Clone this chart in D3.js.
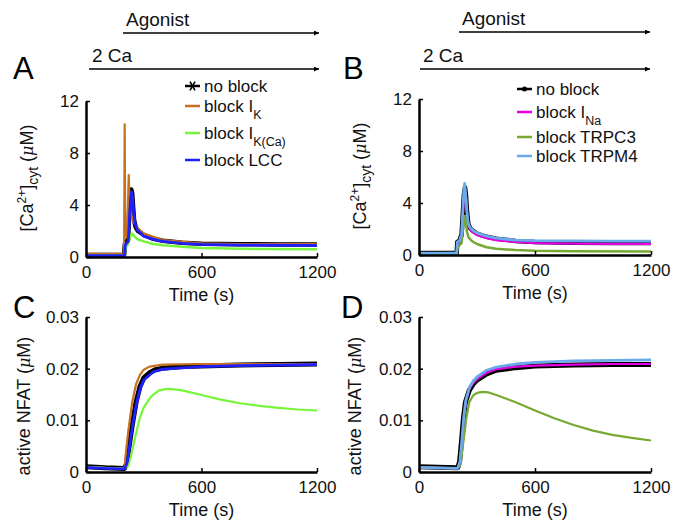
<!DOCTYPE html>
<html><head><meta charset="utf-8">
<script src="https://cdn.jsdelivr.net/npm/d3@7"></script>
<style>body{margin:0;background:#fff}svg{display:block;font-family:"Liberation Sans",Arial,sans-serif}</style>
</head><body><svg id="c" width="673" height="525"></svg>
<script>
// ---------- DATA ----------
const xTicks = [0, 600, 1200];
const caTicks = [0, 4, 8, 12];
const nfatTicks = [0, 0.01, 0.02, 0.03];
const nfatTickLabels = ["0", "0.01", "0.02", "0.03"];

// Panel A: [Ca2+]cyt (uM)
const caA_noBlock_t = [0,198,202,210,218,222,228,235,240,245,250,258,270,300,350,400,500,600,800,1000,1200];
const caA_noBlock_v = [0.15,0.15,1.0,1.2,1.3,2.5,4.5,5.2,4.9,3.8,2.8,2.3,2.0,1.7,1.4,1.25,1.1,1.02,0.98,0.97,0.97];
const caA_IK_t = [0,196,198,201,204,212,218,222,226,232,240,250,270,300,400,600,800,1200];
const caA_IK_v = [0.25,0.25,1.0,10.2,1.5,1.5,4.0,6.3,4.5,3.5,3.0,2.6,2.2,1.8,1.3,1.05,1.0,1.0];
const caA_IKCa_t = [0,200,205,215,225,232,240,250,270,300,350,400,500,600,800,1200];
const caA_IKCa_v = [0.1,0.1,0.7,0.9,1.3,1.7,1.8,1.6,1.35,1.2,1.0,0.9,0.78,0.7,0.63,0.6];
const caA_LCC_t = [0,200,204,212,220,226,232,237,242,248,255,265,280,300,350,400,500,600,800,1200];
const caA_LCC_v = [0.1,0.1,0.9,1.1,1.2,3.0,4.6,5.0,4.6,3.4,2.6,2.1,1.9,1.6,1.35,1.2,1.05,0.97,0.92,0.9];

// Panel B: [Ca2+]cyt (uM)
const caB_noBlock_t = [0,195,198,210,215,220,226,232,238,243,248,255,265,280,300,350,400,500,600,800,1000,1200];
const caB_noBlock_v = [0.15,0.15,1.0,1.1,1.4,1.5,3.0,4.6,5.2,4.6,3.4,2.4,2.05,1.85,1.65,1.4,1.25,1.08,1.0,0.95,0.93,0.92];
const caB_INa_t = [0,195,198,210,215,220,226,232,238,243,248,255,265,280,300,350,400,500,600,800,1000,1200];
const caB_INa_v = [0.12,0.12,0.9,1.0,1.3,1.4,2.8,4.4,5.0,4.4,3.2,2.3,1.95,1.75,1.55,1.3,1.15,1.0,0.92,0.87,0.85,0.85];
const caB_TRPC3_t = [0,195,200,212,220,226,232,238,243,248,255,265,280,300,350,400,500,600,800,1200];
const caB_TRPC3_v = [0.1,0.1,0.6,0.8,0.9,1.8,2.6,3.0,2.4,1.8,1.4,1.2,1.0,0.85,0.6,0.48,0.38,0.32,0.28,0.27];
const caB_TRPM4_t = [0,195,198,210,215,220,226,232,236,242,248,255,265,280,300,350,400,500,600,800,1000,1200];
const caB_TRPM4_v = [0.15,0.15,1.0,1.1,1.4,1.5,3.2,5.0,5.5,4.6,3.3,2.4,2.1,1.9,1.7,1.45,1.3,1.15,1.1,1.08,1.07,1.07];

// Panel C: active NFAT (uM)
const nfC_noBlock_t = [0,100,200,210,220,240,260,280,300,330,360,400,500,600,800,1000,1200];
const nfC_noBlock_v = [0.0010,0.0008,0.0007,0.0015,0.0040,0.0090,0.0135,0.0165,0.0182,0.0192,0.0198,0.0201,0.0204,0.0205,0.0207,0.0208,0.0209];
const nfC_IK_t = [0,100,200,205,220,240,260,280,300,330,400,600,800,1200];
const nfC_IK_v = [0.0010,0.0008,0.0007,0.0030,0.0080,0.0135,0.0170,0.0188,0.0198,0.0204,0.0208,0.0209,0.0209,0.0209];
const nfC_IKCa_t = [0,100,200,220,240,260,280,300,340,380,420,460,500,600,700,800,900,1000,1100,1200];
const nfC_IKCa_v = [0.0010,0.0008,0.0007,0.0012,0.0040,0.0075,0.0105,0.0125,0.0147,0.0158,0.0161,0.0160,0.0158,0.0149,0.0140,0.0133,0.0128,0.0124,0.0121,0.0119];
const nfC_LCC_t = [0,100,200,215,240,260,280,300,350,400,600,800,1200];
const nfC_LCC_v = [0.0009,0.0007,0.0006,0.0020,0.0085,0.0128,0.0160,0.0178,0.0194,0.0199,0.0204,0.0206,0.0208];

// Panel D: active NFAT (uM)
const nfD_noBlock_t = [0,100,200,210,220,230,240,260,280,300,350,400,500,600,800,1000,1200];
const nfD_noBlock_v = [0.0010,0.0009,0.0008,0.0020,0.0060,0.0105,0.0135,0.0158,0.0170,0.0178,0.0190,0.0197,0.0202,0.0205,0.0207,0.0208,0.0208];
const nfD_INa_t = [0,100,200,212,222,232,242,260,280,300,350,400,500,600,800,1000,1200];
const nfD_INa_v = [0.0009,0.0008,0.0007,0.0020,0.0060,0.0105,0.0135,0.0160,0.0172,0.0180,0.0192,0.0199,0.0204,0.0206,0.0208,0.0209,0.0209];
const nfD_TRPC3_t = [0,100,200,215,230,245,260,280,300,330,360,400,500,600,700,800,900,1000,1100,1200];
const nfD_TRPC3_v = [0.0009,0.0008,0.0007,0.0015,0.0060,0.0105,0.0135,0.0148,0.0153,0.0155,0.0154,0.0149,0.0135,0.0119,0.0104,0.0091,0.0080,0.0072,0.0066,0.0061];
const nfD_TRPM4_t = [0,100,200,212,222,232,242,260,280,300,350,400,500,600,800,1000,1200];
const nfD_TRPM4_v = [0.0009,0.0008,0.0007,0.0020,0.0062,0.0108,0.0138,0.0163,0.0176,0.0184,0.0197,0.0203,0.0209,0.0212,0.0215,0.0216,0.0217];

// ---------- DRAW ----------
const svg = d3.select("#c");
const C = {black:"#000", orange:"#c8701e", lime:"#77f53a", blue:"#1f1fff",
           magenta:"#e600e6", olive:"#77a832", sky:"#6aaaea"};

function zip(t, v){ return t.map((d,i)=>[d, v[i]]); }

function panel(o){
  const x = d3.scaleLinear().domain([0,1200]).range([o.x0, o.x1]);
  const y = d3.scaleLinear().domain(o.ydom).range([o.y0, o.y1]);
  const g = svg.append("g");
  const line = d3.line().x(d=>x(d[0])).y(d=>y(d[1]));
  o.series.forEach(s=>{
    g.append("path").datum(zip(s.t, s.v)).attr("d", line)
      .attr("fill","none").attr("stroke", s.c).attr("stroke-width", s.w)
      .attr("stroke-linejoin","round");
  });
  const xa = g.append("g").attr("transform",`translate(0,${o.y0})`)
    .call(d3.axisBottom(x).tickValues(xTicks).tickSizeInner(-4).tickSizeOuter(0).tickPadding(9).tickFormat(d3.format("d")));
  const ya = g.append("g").attr("transform",`translate(${o.x0},0)`)
    .call(d3.axisLeft(y).tickValues(o.yticks).tickSizeInner(-4).tickSizeOuter(0).tickPadding(7)
      .tickFormat((d,i)=>o.ylabels[i]));
  [xa, ya].forEach(a=>{
    a.select(".domain").attr("stroke","#000").attr("stroke-width",2.5);
    a.selectAll(".tick line").attr("stroke","#000").attr("stroke-width",1.5);
    a.selectAll("text").attr("font-size",17).attr("fill","#111")
      .attr("font-family",'"Liberation Sans",Arial,sans-serif');
  });
  g.append("text").attr("x",(o.x0+o.x1)/2).attr("y",o.y0+44).attr("text-anchor","middle")
    .attr("font-size",18).attr("fill","#111").text("Time (s)");
  return {x,y,g};
}

function ylabelCa(cx, cy){
  const t = svg.append("text").attr("transform",`translate(${cx},${cy}) rotate(-90)`)
    .attr("text-anchor","middle").attr("font-size",18).attr("fill","#111");
  t.append("tspan").text("[Ca");
  t.append("tspan").attr("font-size",12).attr("dy",-7).text("2+");
  t.append("tspan").attr("dy",7).text("]");
  t.append("tspan").attr("font-size",14).attr("dy",5).text("cyt");
  t.append("tspan").attr("dy",-5).text(" (");
  t.append("tspan").attr("font-style","italic").attr("font-family","'DejaVu Serif',serif").attr("font-size",16).text("μ");
  t.append("tspan").text("M)");
}
function ylabelNfat(cx, cy){
  const t = svg.append("text").attr("transform",`translate(${cx},${cy}) rotate(-90)`)
    .attr("text-anchor","middle").attr("font-size",18).attr("fill","#111");
  t.append("tspan").text("active NFAT (");
  t.append("tspan").attr("font-style","italic").attr("font-family","'DejaVu Serif',serif").attr("font-size",16).text("μ");
  t.append("tspan").text("M)");
}

panel({x0:86,x1:317,y0:257,y1:101,ydom:[0,12],yticks:caTicks,ylabels:caTicks.map(String),
  series:[
    {t:caA_noBlock_t,v:caA_noBlock_v,c:C.black,w:4.5},
    {t:caA_IK_t,v:caA_IK_v,c:C.orange,w:2.2},
    {t:caA_IKCa_t,v:caA_IKCa_v,c:C.lime,w:2.5},
    {t:caA_LCC_t,v:caA_LCC_v,c:C.blue,w:2.8}]});
ylabelCa(33,178);
panel({x0:419,x1:651,y0:255,y1:99,ydom:[0,12],yticks:caTicks,ylabels:caTicks.map(String),
  series:[
    {t:caB_noBlock_t,v:caB_noBlock_v,c:C.black,w:4.5},
    {t:caB_INa_t,v:caB_INa_v,c:C.magenta,w:2.2},
    {t:caB_TRPC3_t,v:caB_TRPC3_v,c:C.olive,w:2.5},
    {t:caB_TRPM4_t,v:caB_TRPM4_v,c:C.sky,w:2.8}]});
ylabelCa(366,176);
panel({x0:86,x1:317,y0:472,y1:317,ydom:[0,0.03],yticks:nfatTicks,ylabels:nfatTickLabels,
  series:[
    {t:nfC_noBlock_t,v:nfC_noBlock_v,c:C.black,w:5},
    {t:nfC_IK_t,v:nfC_IK_v,c:C.orange,w:2.2},
    {t:nfC_IKCa_t,v:nfC_IKCa_v,c:C.lime,w:2.2},
    {t:nfC_LCC_t,v:nfC_LCC_v,c:C.blue,w:2.8}]});
ylabelNfat(30,406);
panel({x0:419,x1:651,y0:472,y1:317,ydom:[0,0.03],yticks:nfatTicks,ylabels:nfatTickLabels,
  series:[
    {t:nfD_noBlock_t,v:nfD_noBlock_v,c:C.black,w:5},
    {t:nfD_INa_t,v:nfD_INa_v,c:C.magenta,w:2.2},
    {t:nfD_TRPC3_t,v:nfD_TRPC3_v,c:C.olive,w:2.2},
    {t:nfD_TRPM4_t,v:nfD_TRPM4_v,c:C.sky,w:2.8}]});
ylabelNfat(361,406);

[["A",13,79],["B",343,79],["C",13,318],["D",341,318]].forEach(([s,x,y])=>
  svg.append("text").attr("x",x).attr("y",y).attr("font-size",31).attr("fill","#000").text(s));

const defs = svg.append("defs");
defs.append("marker").attr("id","arr").attr("viewBox","0 0 10 10").attr("refX",10).attr("refY",5)
  .attr("markerWidth",7).attr("markerHeight",5).attr("markerUnits","userSpaceOnUse").attr("orient","auto")
  .append("path").attr("d","M0,0L10,5L0,10Z").attr("fill","#000");
function arrow(x0,x1,y,label,tx){
  svg.append("line").attr("x1",x0).attr("x2",x1).attr("y1",y).attr("y2",y)
    .attr("stroke","#000").attr("stroke-width",1.6).attr("marker-end","url(#arr)");
  svg.append("text").attr("x",tx).attr("y",y-7).attr("font-size",19).attr("fill","#111").text(label);
}
arrow(123,319,33,"Agonist",126);
arrow(89,319,69,"2 Ca",92);
arrow(459,650,32,"Agonist",462);
arrow(420,650,69,"2 Ca",423);

function legend(x, items){
  items.forEach(it=>{
    const g = svg.append("g");
    g.append("line").attr("x1",x).attr("x2",x+15).attr("y1",it.y).attr("y2",it.y)
      .attr("stroke",it.c).attr("stroke-width",2.5);
    if(it.mk==="star"){
      const cx=x+7.5, cy=it.y, r=5;
      [0,60,120].forEach(a=>{const rad=a*Math.PI/180;
        g.append("line").attr("x1",cx-r*Math.cos(rad)).attr("x2",cx+r*Math.cos(rad))
         .attr("y1",cy-r*Math.sin(rad)).attr("y2",cy+r*Math.sin(rad)).attr("stroke","#000").attr("stroke-width",1.6);});
    } else if(it.mk==="dot"){
      g.append("circle").attr("cx",x+7.5).attr("cy",it.y).attr("r",2.5).attr("fill","#000");
    }
    const t = g.append("text").attr("x",x+19).attr("y",it.y+6).attr("font-size",17).attr("fill","#111");
    t.append("tspan").text(it.label);
    if(it.sub){ t.append("tspan").attr("font-size",12.5).attr("dy",7).text(it.sub); }
  });
}
legend(185,[
  {y:86,c:"#000",mk:"star",label:"no block"},
  {y:106,c:C.orange,label:"block I",sub:"K"},
  {y:133,c:C.lime,label:"block I",sub:"K(Ca)"},
  {y:160,c:C.blue,label:"block LCC"}]);
legend(517,[
  {y:89,c:"#000",mk:"dot",label:"no block"},
  {y:112,c:C.magenta,label:"block I",sub:"Na"},
  {y:137,c:C.olive,label:"block TRPC3"},
  {y:156,c:C.sky,label:"block TRPM4"}]);
</script></body></html>
